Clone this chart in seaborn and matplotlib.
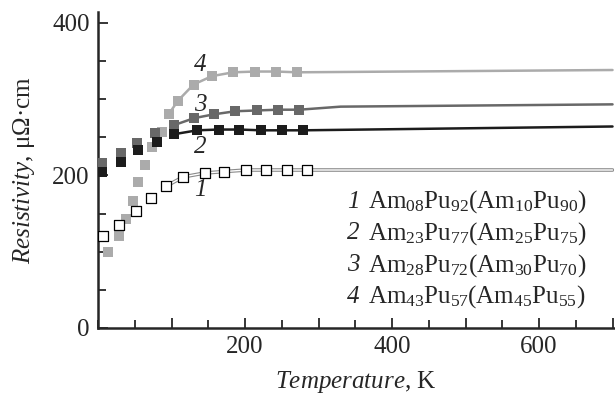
"""
Resistivity vs temperature for Am-Pu alloys.
"""
import numpy as np
import pandas as pd
import matplotlib
matplotlib.use("Agg")
import matplotlib.pyplot as plt
from matplotlib.ticker import MultipleLocator, FixedLocator
import seaborn as sns

# ── data ─────────────────────────────────────────────────────────────────────
t1 = [7, 29, 52, 72, 93, 116, 145, 172, 202, 229, 257, 285]
r1 = [121, 135, 153, 170, 186, 198, 203, 205, 207, 207, 207, 207]
t2 = [5, 31, 55, 80, 104, 135, 164, 192, 222, 251, 279]
r2 = [205, 217, 233, 244, 254, 259, 260, 260, 259, 259, 259]
t3 = [5, 31, 53, 78, 104, 131, 158, 187, 216, 245, 274]
r3 = [216, 229, 243, 255, 266, 275, 280, 284, 285, 286, 286]
t4 = [14, 29, 38, 48, 55, 64, 74, 87, 96, 109, 130, 155, 184, 214, 242, 271]
r4 = [99, 121, 143, 167, 191, 213, 237, 257, 280, 298, 319, 330, 335, 336, 336, 335]

# smoothed curves (start around 100 K, extend to 700 K)
lt1 = [93, 116, 145, 172, 202, 229, 257, 285, 700]
lr1 = [186, 198, 203, 205, 207, 207, 207, 207, 207]
lt2 = [104, 135, 164, 192, 222, 251, 279, 700]
lr2 = [254, 259, 260, 260, 259, 259, 259, 264]
lt3 = [104, 131, 158, 187, 216, 245, 274, 330, 700]
lr3 = [266, 275, 280, 284, 285, 286, 286, 290, 293]
lt4 = [96, 109, 130, 155, 184, 214, 242, 271, 700]
lr4 = [280, 298, 319, 330, 335, 336, 336, 335, 338]

labels = [
    r"Am$_{08}$Pu$_{92}$(Am$_{10}$Pu$_{90}$)",
    r"Am$_{23}$Pu$_{77}$(Am$_{25}$Pu$_{75}$)",
    r"Am$_{28}$Pu$_{72}$(Am$_{30}$Pu$_{70}$)",
    r"Am$_{43}$Pu$_{57}$(Am$_{45}$Pu$_{55}$)",
]
curve_ids = ["1", "2", "3", "4"]
curve_label_pos = [(139, 181), (139, 237), (139, 292), (139, 345)]

sns.set_style("ticks")
plt.rcParams["font.family"] = ["Liberation Serif", "DejaVu Serif"]
plt.rcParams["mathtext.fontset"] = "custom"
plt.rcParams["mathtext.rm"] = "Liberation Serif"
plt.rcParams["mathtext.it"] = "Liberation Serif:italic"

fig = plt.figure(figsize=(6.15, 3.98), dpi=100)
ax = fig.add_axes([98 / 615, 70 / 398, 516 / 615, 316 / 398])

c1, c2, c3, c4 = "white", "#1c1c1c", "#686868", "#ababab"

# curves
sns.lineplot(x=lt4, y=lr4, ax=ax, color=c4, lw=1.8, zorder=2)
sns.lineplot(x=lt1, y=lr1, ax=ax, color="#8a8a8a", lw=2.6, zorder=2)
sns.lineplot(x=lt1, y=lr1, ax=ax, color="white", lw=1.0, zorder=2)
sns.lineplot(x=lt3, y=lr3, ax=ax, color=c3, lw=1.8, zorder=2)
sns.lineplot(x=lt2, y=lr2, ax=ax, color=c2, lw=1.8, zorder=2)

# markers
ms = 52
sns.scatterplot(x=t4, y=r4, ax=ax, marker="s", s=ms, color=c4, linewidth=0, zorder=3)
sns.scatterplot(x=t1, y=r1, ax=ax, marker="s", s=ms, color=c1, edgecolor="black",
                linewidth=0.9, zorder=3)
sns.scatterplot(x=t3, y=r3, ax=ax, marker="s", s=ms, color=c3, linewidth=0, zorder=4)
sns.scatterplot(x=t2, y=r2, ax=ax, marker="s", s=ms, color=c2, linewidth=0, zorder=5)

for cid, (tx, ty) in zip(curve_ids, curve_label_pos):
    ax.text(tx, ty, cid, fontsize=18, style="italic", ha="center", va="center")

# legend as plain text lines
for i, (cid, lab) in enumerate(zip(curve_ids, labels)):
    y = 0.40 - i * 0.1005
    ax.text(0.4826, y, cid, transform=ax.transAxes, fontsize=18, style="italic",
            ha="left", va="center")
    ax.text(0.523, y, lab, transform=ax.transAxes, fontsize=18, ha="left", va="center")

ax.set_xlim(0, 702)
ax.set_ylim(0, 414)
ax.xaxis.set_minor_locator(MultipleLocator(50))
ax.set_xticks([100, 200, 300, 400, 500, 600, 700])
ax.set_xticklabels(["", "200", "", "400", "", "600", ""])
ax.yaxis.set_major_locator(FixedLocator([0, 200, 400]))
ax.yaxis.set_minor_locator(MultipleLocator(50))
ax.tick_params(which="both", direction="in", width=1.3, labelsize=18, pad=6)
ax.tick_params(which="major", length=7)
ax.tick_params(which="minor", length=6)
sns.despine(ax=ax)
for s in ("left", "bottom"):
    ax.spines[s].set_linewidth(1.8)

ax.set_xlabel(r"$\it{Temperature}$, K", fontsize=18, labelpad=8)
ax.set_ylabel(r"$\it{Resistivity}$, μΩ·cm", fontsize=18, labelpad=11)

fig.savefig("out.png", dpi=100)
